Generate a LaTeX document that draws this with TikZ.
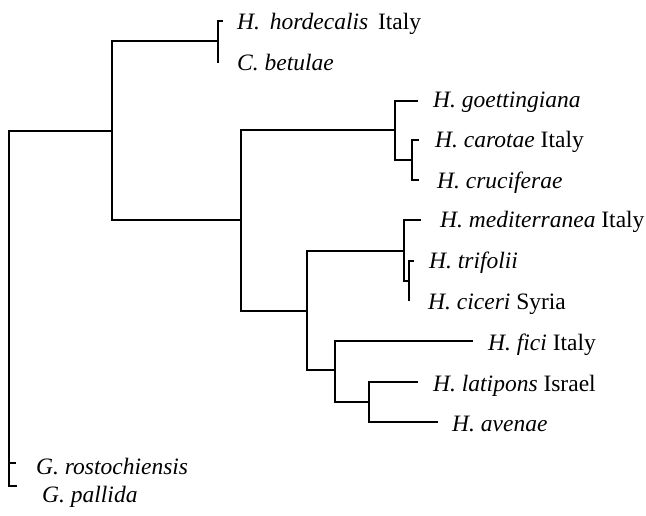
\documentclass[tikz,border=0pt]{standalone}
\usepackage{fontspec}
\setmainfont{Liberation Serif}
\begin{document}
\begin{tikzpicture}[x=1pt,y=-1pt,
  br/.style={line width=1.3pt,line cap=rect},
  lab/.style={anchor=base west,inner sep=0pt,font=\fontsize{23.5}{28}\selectfont}]
\useasboundingbox (0,0) rectangle (646,516);
% internal nodes
\coordinate (R) at (9,300);
\coordinate (A) at (112,131);
\coordinate (B) at (218,41);
\coordinate (C) at (241,220);
\coordinate (D) at (395,130);
\coordinate (F) at (412,160);
\coordinate (E) at (307,311);
\coordinate (G) at (404,251);
\coordinate (I) at (409,281);
\coordinate (H) at (335,370);
\coordinate (J) at (369,402);
% tips
\coordinate (thord) at (222,21);
\coordinate (tbet) at (218,62);
\coordinate (tgoet) at (417,101);
\coordinate (tcar) at (418,140);
\coordinate (tcru) at (418,180);
\coordinate (tmed) at (420,220);
\coordinate (ttri) at (413,261);
\coordinate (tcic) at (409,300);
\coordinate (tfic) at (472,341);
\coordinate (tlat) at (417,382);
\coordinate (tave) at (437,422);
\coordinate (tros) at (15,463);
\coordinate (tpal) at (16,486);
% branches
\draw[br] (A) -| (R) |- (tpal);
\draw[br] (tros) -- (tros -| R);
\draw[br] (B) -| (A) |- (C);
\draw[br] (thord) -| (B) |- (tbet);
\draw[br] (D) -| (C) |- (E);
\draw[br] (tgoet) -| (D) |- (F);
\draw[br] (tcar) -| (F) |- (tcru);
\draw[br] (G) -| (E) |- (H);
\draw[br] (tmed) -| (G) |- (I);
\draw[br] (ttri) -| (I) |- (tcic);
\draw[br] (tfic) -| (H) |- (J);
\draw[br] (tlat) -| (J) |- (tave);
% labels
\node[lab] (lhord) at (237,30) {\textit{H.}\hspace{4pt} \textit{hordecalis}\hspace{4pt} Italy};
\node[lab] (lbet) at (237,71) {\textit{C. betulae}};
\node[lab] (lgoet) at (433,108) {\textit{H. goettingiana}};
\node[lab] (lcar) at (435,148) {\textit{H. carotae} Italy};
\node[lab] (lcru) at (437,189) {\textit{H. cruciferae}};
\node[lab] (lmed) at (440,228) {\textit{H. mediterranea} Italy};
\node[lab] (ltri) at (429,269) {\textit{H. trifolii}};
\node[lab] (lcic) at (428,309) {\textit{H. ciceri} Syria};
\node[lab] (lfic) at (488,350) {\textit{H. fici} Italy};
\node[lab] (llat) at (433,391) {\textit{H. latipons} Israel};
\node[lab] (lave) at (452,431) {\textit{H. avenae}};
\node[lab] (lros) at (36,474) {\textit{G. rostochiensis}};
\node[lab] (lpal) at (42,502) {\textit{G. pallida}};
\end{tikzpicture}
\end{document}
